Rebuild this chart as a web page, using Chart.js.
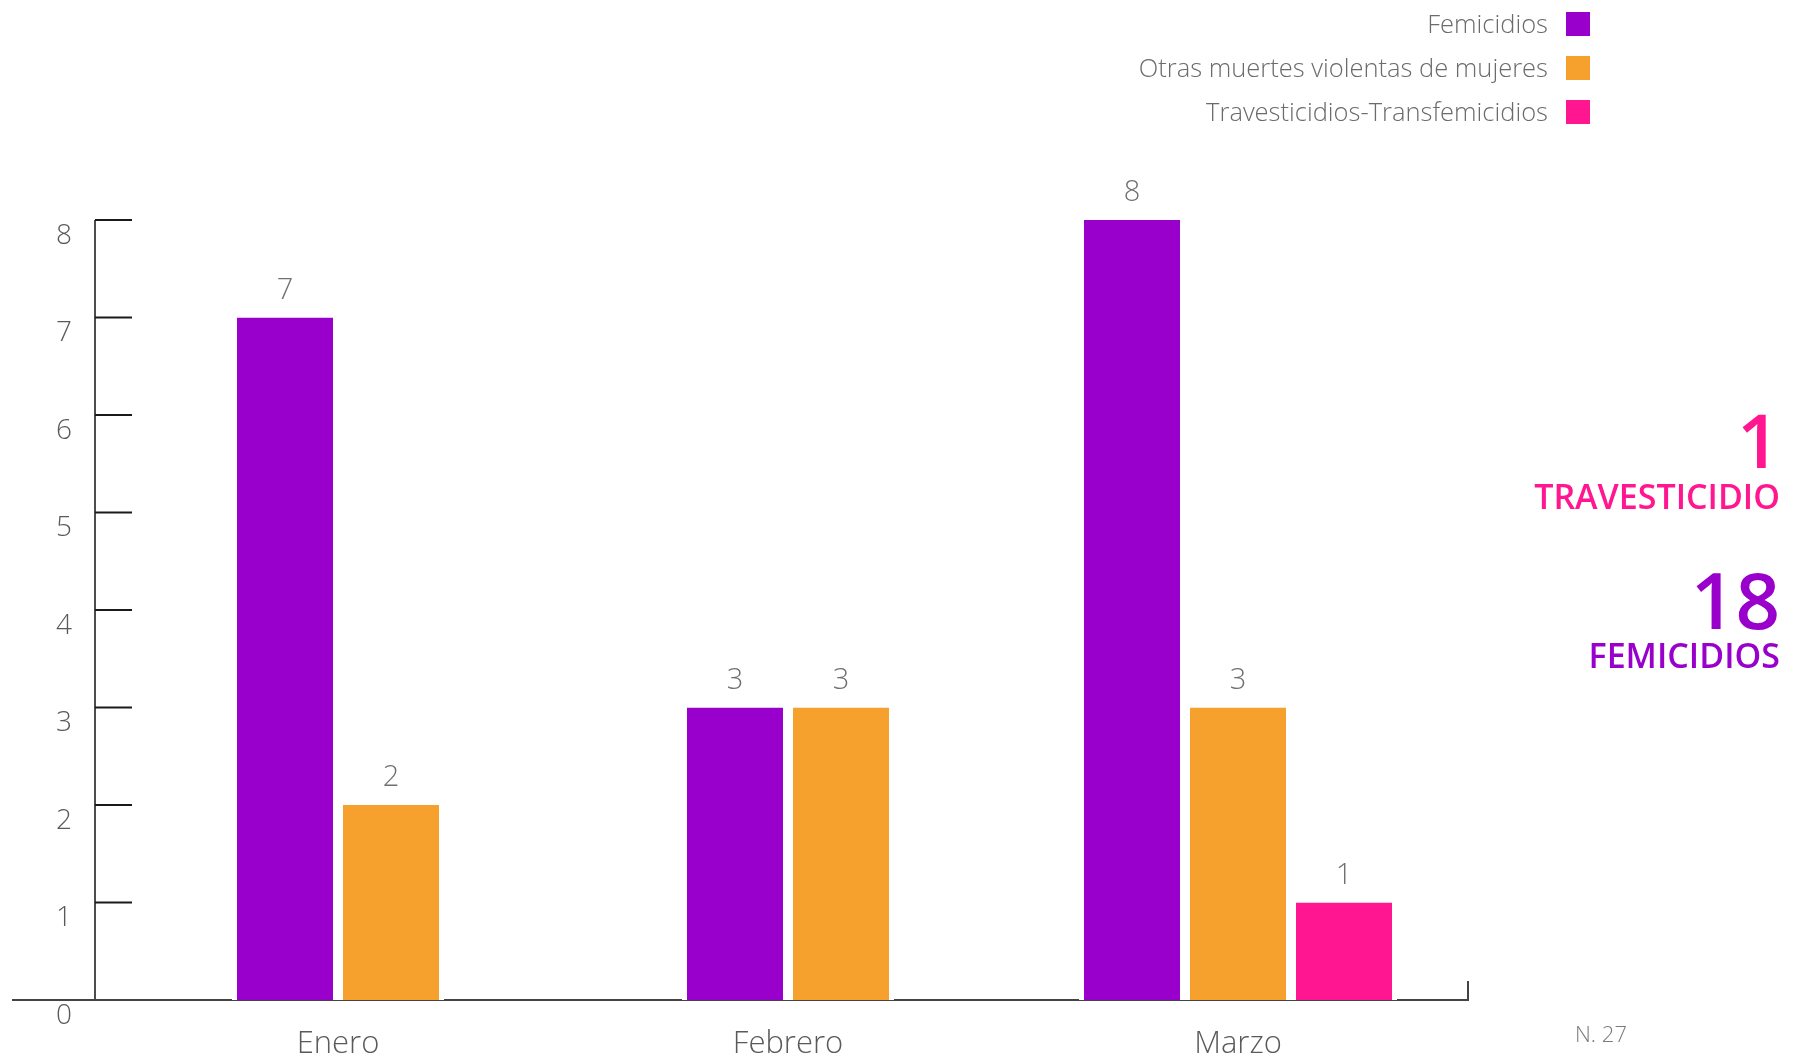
<!DOCTYPE html>
<html lang="es">
<head>
<meta charset="utf-8">
<title>Femicidios por mes</title>
<script src="https://cdn.jsdelivr.net/npm/chart.js@4.4.1/dist/chart.umd.min.js"></script>
<style>
  html, body { margin: 0; padding: 0; background: #fff; }
  #wrap { position: relative; width: 1802px; height: 1059px; }
</style>
</head>
<body>
<div id="wrap"><canvas id="grafico"></canvas></div>
<script>
// datos
const meses = ['Enero', 'Febrero', 'Marzo'];
const femicidios = [7, 3, 8];
const otrasMuertes = [2, 3, 3];
const travesticidios = [null, null, 1];
const valoresEjeY = [0, 1, 2, 3, 4, 5, 6, 7, 8];
const nota = 'N. 27';

const VIOLETA = '#9900cc';
const NARANJA = '#f6a02e';
const ROSA = '#ff1690';
const FUENTE = '"Open Sans", "Noto Sans", sans-serif';

const suma = arr => arr.reduce((a, b) => a + (b || 0), 0);

// ejes, etiquetas de valores, leyenda y totales
const decoracion = {
    id: 'decoracion',
    beforeDatasetsDraw(chart) {
        const { ctx, scales: { y } } = chart;
        const xEje = 95;
        const base = y.getPixelForValue(0);
        ctx.save();
        ctx.lineWidth = 2;
        ctx.strokeStyle = '#4d4d4d';
        ctx.beginPath();
        ctx.moveTo(xEje, y.getPixelForValue(valoresEjeY[valoresEjeY.length - 1]));
        ctx.lineTo(xEje, base);
        ctx.stroke();

        ctx.strokeStyle = '#1a1a1a';
        ctx.beginPath();
        valoresEjeY.forEach(v => {
            if (v === 0) return;
            const py = y.getPixelForValue(v);
            ctx.moveTo(xEje, py);
            ctx.lineTo(132, py);
        });
        ctx.stroke();

        ctx.strokeStyle = '#444';
        ctx.beginPath();
        ctx.moveTo(12, base);
        ctx.lineTo(1468, base);
        ctx.lineTo(1468, base - 19);
        ctx.stroke();
        ctx.restore();
    },
    afterDatasetsDraw(chart) {
        const { ctx } = chart;
        ctx.save();
        ctx.font = `300 29px ${FUENTE}`;
        ctx.fillStyle = '#707070';
        ctx.textAlign = 'center';
        ctx.textBaseline = 'alphabetic';
        chart.data.datasets.forEach((ds, i) => {
            chart.getDatasetMeta(i).data.forEach((barra, j) => {
                const v = ds.data[j];
                if (v === null || v === undefined) return;
                ctx.fillText(v, barra.x, barra.y - 19);
            });
        });
        ctx.restore();
    },
    afterDraw(chart) {
        const { ctx } = chart;
        ctx.save();
        // leyenda
        ctx.font = `300 25.5px ${FUENTE}`;
        ctx.textAlign = 'right';
        ctx.textBaseline = 'alphabetic';
        chart.data.datasets.forEach((ds, i) => {
            const yBase = 33 + i * 44;
            ctx.fillStyle = '#6b6b6b';
            ctx.fillText(ds.label, 1548, yBase);
            ctx.fillStyle = ds.backgroundColor;
            ctx.fillRect(1566, yBase - 21, 24, 24);
        });

        // totales a la derecha
        ctx.fillStyle = ROSA;
        ctx.font = `600 75px ${FUENTE}`;
        ctx.fillText(suma(travesticidios), 1780, 468);
        ctx.font = `600 34px ${FUENTE}`;
        ctx.fillText('TRAVESTICIDIO', 1780, 509);

        ctx.fillStyle = VIOLETA;
        ctx.font = `600 78px ${FUENTE}`;
        ctx.fillText(suma(femicidios), 1780, 629);
        ctx.font = `600 34px ${FUENTE}`;
        ctx.fillText('FEMICIDIOS', 1780, 668);

        // nota
        ctx.textAlign = 'left';
        ctx.fillStyle = '#7a7a7a';
        ctx.font = `300 22px ${FUENTE}`;
        ctx.fillText(nota, 1575, 1042);
        ctx.restore();
    }
};

const estiloBarra = {
    barThickness: 106,
    borderWidth: { left: 5, right: 5, top: 0, bottom: 0 },
    borderColor: '#ffffff',
    borderSkipped: false,
    inflateAmount: 0,
    skipNull: true
};

const ctx = document.getElementById('grafico').getContext('2d');
new Chart(ctx, {
    type: 'bar',
    data: {
        labels: meses,
        datasets: [
            { label: 'Femicidios', data: femicidios, backgroundColor: VIOLETA, ...estiloBarra },
            { label: 'Otras muertes violentas de mujeres', data: otrasMuertes, backgroundColor: NARANJA, ...estiloBarra },
            { label: 'Travesticidios-Transfemicidios', data: travesticidios, backgroundColor: ROSA, ...estiloBarra }
        ]
    },
    options: {
        responsive: true,
        maintainAspectRatio: false,
        animation: false,
        layout: { padding: { top: 220, right: 339, bottom: 0, left: 0 } },
        scales: {
            x: {
                grid: { display: false, drawTicks: false },
                border: { display: false },
                ticks: {
                    color: '#5a5a5a',
                    font: { family: FUENTE, size: 31, weight: '300' },
                    padding: 26
                },
                afterFit(scale) { scale.height = 59; }
            },
            y: {
                min: 0,
                max: 8,
                grid: { display: false, drawTicks: false },
                border: { display: false },
                afterBuildTicks(scale) { scale.ticks = valoresEjeY.map(v => ({ value: v })); },
                ticks: {
                    color: '#5a5a5a',
                    font: { family: FUENTE, size: 28, weight: '300' },
                    padding: 41,
                    labelOffset: 16
                },
                afterFit(scale) { scale.width = 113; }
            }
        },
        plugins: {
            legend: { display: false },
            tooltip: { enabled: false }
        }
    },
    plugins: [decoracion]
});
</script>
</body>
</html>
